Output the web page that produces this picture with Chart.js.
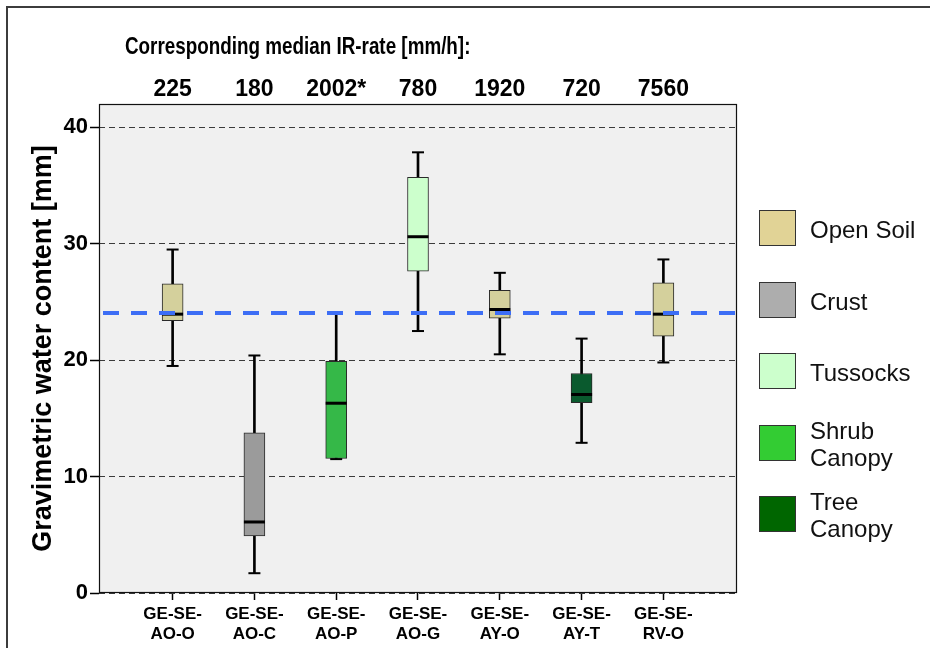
<!DOCTYPE html>
<html>
<head>
<meta charset="utf-8">
<script src="https://cdn.jsdelivr.net/npm/chart.js@4.4.1/dist/chart.umd.min.js"></script>
<style>
  html, body { margin: 0; padding: 0; background: #fff; }
  #wrap { position: relative; width: 930px; height: 648px; overflow: hidden; background: #fff;
          font-family: 'Liberation Sans', Arial, sans-serif; }
  #c { position: absolute; left: 0; top: 0; }
  #frame { position: absolute; left: 6px; top: 6px; width: 1000px; height: 1000px;
           border: 2px solid #3c3c3c; pointer-events: none; }
  #title { position: absolute; left: 125px; top: 30px; font-weight: bold; font-size: 24px;
           line-height: 32px; white-space: nowrap; transform-origin: 0 0; transform: scaleX(0.785); color: #000; }
  .sw { position: absolute; box-sizing: border-box; width: 37px; height: 36px; border: 1.5px solid #333; }
  .lt { position: absolute; font-size: 24px; line-height: 27px; color: #111; white-space: pre; }
</style>
</head>
<body>
<div id="wrap">
  <canvas id="c" width="930" height="648"></canvas>
  <div id="frame"></div>
  <div id="title">Corresponding median IR-rate [mm/h]:</div>
  <div id="legend"></div>
</div>
<script>
// ---------------- data ----------------
const categories = ['GE-SE-AO-O', 'GE-SE-AO-C', 'GE-SE-AO-P', 'GE-SE-AO-G', 'GE-SE-AY-O', 'GE-SE-AY-T', 'GE-SE-RV-O'];
const irRates = ['225', '180', '2002*', '780', '1920', '720', '7560'];
const whiskerLow  = [19.5, 1.7, 11.5, 22.5, 20.5, 12.9, 19.8];
const q1          = [23.4, 4.9, 11.55, 27.65, 23.6, 16.35, 22.05];
const median      = [23.95, 6.1, 16.3, 30.6, 24.35, 17.05, 23.95];
const q3          = [26.55, 13.75, 19.9, 35.7, 26.0, 18.85, 26.65];
const whiskerHigh = [29.5, 20.4, 24.0, 37.85, 27.5, 21.85, 28.65];
const referenceLine = 24.05;
const yTicks = [0, 10, 20, 30, 40];
const legendLabels = ['Open Soil', 'Crust', 'Tussocks', 'Shrub\nCanopy', 'Tree\nCanopy'];

// ---------------- styles ----------------
const boxColors = ['#d4d09c', '#9b9b9b', '#35b848', '#ccffcc', '#d4d09c', '#0a5a2e', '#d4d09c'];
const legendColors = ['#e1d396', '#adadad', '#ccffcc', '#33cc33', '#006600'];
const FONT = "'Liberation Sans', Arial, sans-serif";
const X_MIN = 0.1, X_MAX = 7.9, Y_MIN = 0, Y_MAX = 42;

// ---------------- legend (HTML) ----------------
const lg = document.getElementById('legend');
legendLabels.forEach((lab, i) => {
  const top = Math.round(210 + i * 71.5);
  const sw = document.createElement('div');
  sw.className = 'sw';
  sw.style.left = '759px';
  sw.style.top = top + 'px';
  sw.style.background = legendColors[i];
  lg.appendChild(sw);
  const tx = document.createElement('div');
  tx.className = 'lt';
  tx.textContent = lab;
  const lines = lab.split('\n').length;
  tx.style.left = '810px';
  tx.style.top = (top + 18 - lines * 27 / 2 + 1) + 'px';
  lg.appendChild(tx);
});

// ---------------- chart ----------------
const xs = categories.map((_, i) => i + 1);
const setCatTicks = s => { s.ticks = xs.map(v => ({ value: v })); };

const plotFrame = {
  id: 'plotFrame',
  beforeDraw(chart) {
    const { ctx, chartArea: a } = chart;
    ctx.save();
    ctx.fillStyle = '#f0f0f0';
    ctx.fillRect(a.left, a.top, a.right - a.left, a.bottom - a.top);
    ctx.restore();
  },
  afterDraw(chart) {
    const { ctx, chartArea: a } = chart;
    ctx.save();
    ctx.strokeStyle = '#111';
    ctx.lineWidth = 1.2;
    ctx.setLineDash([]);
    ctx.strokeRect(a.left + 0.5, a.top + 0.5, a.right - a.left - 1, a.bottom - a.top - 1);
    ctx.restore();
  }
};

new Chart(document.getElementById('c'), {
  type: 'bar',
  data: {
    datasets: [
      { type: 'line', label: 'reference', data: [{ x: X_MIN, y: referenceLine }, { x: X_MAX, y: referenceLine }],
        borderColor: '#3d6ef5', borderWidth: 4, borderDash: [16, 12], borderDashOffset: -4, pointRadius: 0, order: 0 },
      { type: 'line', label: 'median', data: xs.map((x, i) => ({ x, y: median[i] })), showLine: false,
        pointStyle: 'line', pointRadius: 10.5, pointBorderWidth: 3, pointBorderColor: '#000', pointHoverRadius: 10.5, order: 1 },
      { type: 'line', label: 'caps', data: xs.map((x, i) => ({ x, y: whiskerLow[i] })).concat(xs.map((x, i) => ({ x, y: whiskerHigh[i] }))),
        showLine: false, pointStyle: 'line', pointRadius: 6, pointBorderWidth: 2, pointBorderColor: '#000', order: 1 },
      { type: 'bar', label: 'box', data: xs.map((x, i) => ({ x, y: [q1[i], q3[i]] })),
        backgroundColor: boxColors, borderColor: '#2a2a2a', borderWidth: 1, borderSkipped: false,
        barThickness: 21, grouped: false, order: 2 },
      { type: 'bar', label: 'whisker', data: xs.map((x, i) => ({ x, y: [whiskerLow[i], whiskerHigh[i]] })),
        backgroundColor: '#000', borderWidth: 0, barThickness: 2, grouped: false, order: 3 }
    ]
  },
  options: {
    responsive: false,
    animation: false,
    devicePixelRatio: 1,
    layout: { padding: { left: 0, right: 193, top: 70, bottom: 0 } },
    plugins: { legend: { display: false }, tooltip: { enabled: false }, title: { display: false } },
    scales: {
      x: {
        type: 'linear', position: 'bottom', min: X_MIN, max: X_MAX, offset: false,
        afterBuildTicks: setCatTicks,
        afterFit: s => { s.height = 55; },
        grid: { offset: false, drawOnChartArea: false, drawTicks: true, tickLength: 7, tickColor: '#000', tickWidth: 1.5, color: '#000' },
        border: { display: false },
        ticks: {
          autoSkip: false, maxRotation: 0, padding: 4, color: '#000',
          font: { family: FONT, size: 17, weight: 'bold' }, lineHeight: 1.2,
          callback: v => { const c = categories[v - 1]; if (!c) return ''; const m = c.match(/^(GE-SE-)(.*)$/); return m ? [m[1], m[2]] : c; }
        }
      },
      x2: {
        type: 'linear', position: 'top', min: X_MIN, max: X_MAX, offset: false,
        afterBuildTicks: setCatTicks,
        afterFit: s => { s.height = 34; },
        grid: { display: false, drawTicks: false, offset: false },
        border: { display: false },
        ticks: {
          autoSkip: false, maxRotation: 0, padding: 1, color: '#000',
          font: { family: FONT, size: 23, weight: 'bold' },
          callback: v => irRates[v - 1] || ''
        }
      },
      y: {
        type: 'linear', min: Y_MIN, max: Y_MAX,
        afterBuildTicks: s => { s.ticks = yTicks.map(v => ({ value: v })); },
        afterFit: s => { s.width = 99; },
        grid: { color: '#3a3a3a', lineWidth: 1, tickColor: '#000', tickLength: 9, tickWidth: 1.5, tickBorderDash: [], borderDash: [6, 4] },
        border: { display: false, dash: [6, 4] },
        ticks: { padding: 2, color: '#000', font: { family: FONT, size: 22, weight: 'bold' } },
        title: { display: true, text: 'Gravimetric water content [mm]', color: '#000',
                 font: { family: FONT, size: 27, weight: 'bold' }, padding: { top: 27, bottom: 0 } }
      }
    }
  },
  plugins: [plotFrame]
});
</script>
</body>
</html>
